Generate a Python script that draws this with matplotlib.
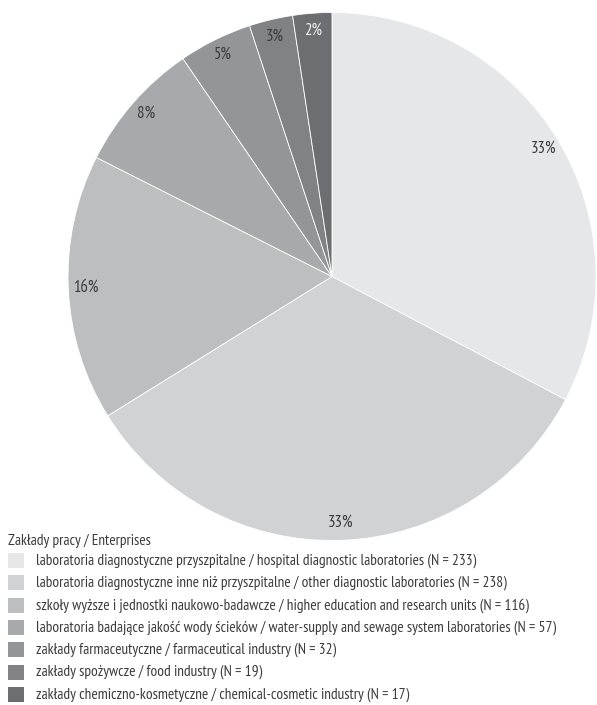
import matplotlib
matplotlib.use("Agg")
import matplotlib.pyplot as plt
from matplotlib.patches import Rectangle
import numpy as np

categories = [
    "laboratoria diagnostyczne przyszpitalne / hospital diagnostic laboratories (N = 233)",
    "laboratoria diagnostyczne inne niż przyszpitalne / other diagnostic laboratories (N = 238)",
    "szkoły wyższe i jednostki naukowo-badawcze / higher education and research units (N = 116)",
    "laboratoria badające jakość wody ścieków / water-supply and sewage system laboratories (N = 57)",
    "zakłady farmaceutyczne / farmaceutical industry (N = 32)",
    "zakłady spożywcze / food industry (N = 19)",
    "zakłady chemiczno-kosmetyczne / chemical-cosmetic industry (N = 17)",
]
values = [233, 238, 116, 57, 32, 19, 17]
pct_labels = ["33%", "33%", "16%", "8%", "5%", "3%", "2%"]
colors = ["#e6e7e8", "#d1d2d4", "#bcbec0", "#a7a9ac", "#939598", "#808285", "#6d6e71"]
label_colors = ["#3a3a3a"] * 6 + ["#f0f0f0"]
legend_title = "Zakłady pracy / Enterprises"

plt.rcParams["font.family"] = ["PT Sans Narrow", "DejaVu Sans"]
FS = 11.1
TXT = "#3c3c3c"

W, H = 597, 705
fig = plt.figure(figsize=(W / 100, H / 100), dpi=100)
cx, cy, r = 332, 276.5, 264
ax = fig.add_axes([(cx - r) / W, (H - cy - r) / H, 2 * r / W, 2 * r / H])
wedges, _ = ax.pie(values, colors=colors, startangle=90, counterclock=False,
                   radius=1, wedgeprops=dict(edgecolor="white", linewidth=0.6))
for w, lab, lc in zip(wedges, pct_labels, label_colors):
    ang = np.deg2rad((w.theta1 + w.theta2) / 2)
    d = 0.935
    ax.text(d * np.cos(ang), d * np.sin(ang), lab, ha="center", va="center",
            fontsize=12, color=lc)
ax.set_xlim(-1, 1)
ax.set_ylim(-1, 1)
ax.set_aspect("equal")
ax.axis("off")

# legend
fig.text(8 / W, 1 - 541 / H, legend_title, ha="left", va="center", fontsize=FS, color=TXT)
y0, dy = 560.5, 22.3
for i, (cat, col) in enumerate(zip(categories, colors)):
    yc = y0 + i * dy
    fig.patches.append(Rectangle((8 / W, 1 - (yc + 7.5) / H), 16 / W, 15 / H,
                                 transform=fig.transFigure, facecolor=col, edgecolor="none"))
    fig.text(36 / W, 1 - yc / H, cat, ha="left", va="center", fontsize=FS, color=TXT)

fig.savefig("out.png", dpi=100, facecolor="white")
